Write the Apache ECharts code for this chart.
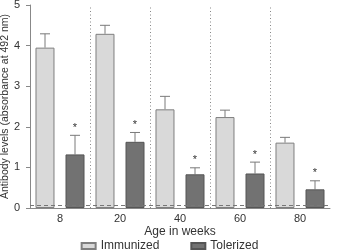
<!DOCTYPE html>
<html>
<head>
<meta charset="utf-8">
<script src="https://cdn.jsdelivr.net/npm/echarts@6/dist/echarts.min.js"></script>
<style>html,body{margin:0;padding:0;background:#fff}#main{width:339px;height:252px}</style>
</head>
<body>
<div id="main"></div>
<script>
// data
var ages = ['8', '20', '40', '60', '80']
var immunized = [3.95, 4.29, 2.43, 2.24, 1.61]
var immunizedTop = [4.29, 4.50, 2.75, 2.41, 1.74]
var tolerized = [1.32, 1.63, 0.83, 0.85, 0.46]
var tolerizedTop = [1.79, 1.86, 0.99, 1.13, 0.67]
var cutoff = 0.08
var font = 'Liberation Sans, Arial, sans-serif'

var myChart = echarts.init(document.getElementById('main'))

// whisker (upper only) + optional asterisk
function errorSeries (vals, tops, side, star) {
  return {
    type: 'custom',
    silent: true,
    data: vals.map(function (v, i) { return [i, v, tops[i]] }),
    renderItem: function (params, api) {
      var base = api.coord([api.value(0), api.value(1)])
      var top = api.coord([api.value(0), api.value(2)])
      var band = api.size([1, 0])[0]
      var x = base[0] + side * band / 4
      var kids = [
        {type: 'line', shape: {x1: x, y1: base[1], x2: x, y2: top[1]}, style: {stroke: '#7a7a7a', lineWidth: 1}},
        {type: 'line', shape: {x1: x - 5, y1: top[1], x2: x + 5, y2: top[1]}, style: {stroke: '#7a7a7a', lineWidth: 1}}
      ]
      if (star) {
        kids.push({type: 'text', style: {text: '*', x: x, y: top[1] - 2, align: 'center', verticalAlign: 'bottom', fontSize: 11, fontFamily: font, fill: '#333'}})
      }
      return {type: 'group', children: kids}
    }
  }
}

// dotted separators between age groups + dashed cutoff line
var marks = ages.slice(1).map(function (a, i) {
  return {xAxis: i + 1, lineStyle: {type: [1, 2.5], color: '#888', width: 1}}
})
marks.push({yAxis: cutoff, lineStyle: {type: [4, 3], color: '#777', width: 1}})

var option = {
  animation: false,
  textStyle: {fontFamily: font},
  grid: {left: 30, right: 9, top: 5, bottom: 44, outerBoundsMode: 'none'},
  legend: {
    data: ['Immunized', 'Tolerized'],
    bottom: 0,
    left: 'center',
    padding: 0,
    itemWidth: 14,
    itemHeight: 6,
    itemGap: 31,
    icon: 'rect',
    textStyle: {fontSize: 12, color: '#333', fontFamily: font}
  },
  xAxis: [
    {
      type: 'category',
      data: ages,
      name: 'Age in weeks',
      nameLocation: 'middle',
      nameGap: 18,
      nameMoveOverlap: false,
      nameTextStyle: {fontSize: 12, color: '#333'},
      axisLine: {lineStyle: {color: '#888'}},
      axisTick: {show: false},
      axisLabel: {fontSize: 11, color: '#333', margin: 5}
    },
    {type: 'value', min: 0, max: 5, show: false}
  ],
  yAxis: {
    type: 'value',
    min: 0,
    max: 5,
    interval: 1,
    name: 'Antibody levels (absorbance at 492 nm)',
    nameLocation: 'middle',
    nameGap: 19,
    nameMoveOverlap: false,
    nameTextStyle: {fontSize: 10.5, color: '#333'},
    axisLine: {show: true, lineStyle: {color: '#888'}},
    axisTick: {show: true, length: 4, lineStyle: {color: '#888'}},
    axisLabel: {fontSize: 11, color: '#333', margin: 10},
    splitLine: {show: false}
  },
  series: [
    {
      name: 'Immunized',
      type: 'bar',
      data: immunized,
      barWidth: 19,
      barGap: '58%',
      itemStyle: {color: '#d9d9d9', borderColor: '#7f7f7f', borderWidth: 1}
    },
    {
      name: 'Tolerized',
      type: 'bar',
      data: tolerized,
      barWidth: 19,
      itemStyle: {color: '#727272', borderColor: '#555', borderWidth: 1}
    },
    errorSeries(immunized, immunizedTop, -1, false),
    errorSeries(tolerized, tolerizedTop, 1, true),
    {
      type: 'line',
      xAxisIndex: 1,
      data: [],
      silent: true,
      markLine: {symbol: ['none', 'none'], silent: true, label: {show: false}, data: marks}
    }
  ]
}

myChart.setOption(option)
</script>
</body>
</html>
